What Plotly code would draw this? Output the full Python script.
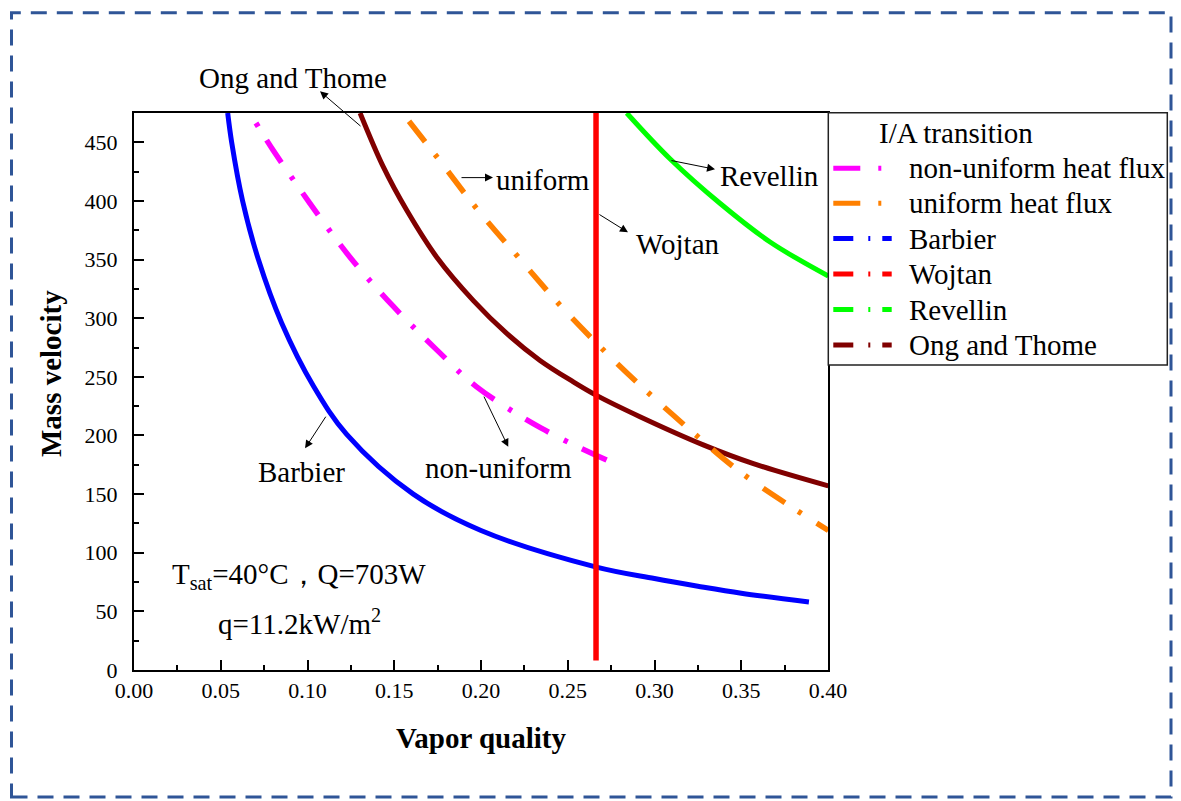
import plotly.graph_objects as go

FONT = "Liberation Serif, Times New Roman, serif"

# ---- data ----
barbier_x = [0.054, 0.0563, 0.0626, 0.0717, 0.0851, 0.1035, 0.1226, 0.161, 0.2, 0.266, 0.30, 0.325, 0.35, 0.389]
barbier_y = [475, 450, 400, 350, 296, 242, 201, 150, 119, 88, 78, 71.5, 65.5, 58]

nonuni_x = [0.0703, 0.0803, 0.1014, 0.1245, 0.1495, 0.1745, 0.1975, 0.235, 0.2724]
nonuni_y = [466.5, 443, 398, 352, 310, 273, 241.5, 206, 179]

uni_x = [0.1585, 0.1754, 0.1975, 0.2221, 0.2465, 0.2725, 0.2916, 0.3195, 0.3493, 0.38, 0.4002]
uni_y = [468, 436, 393.5, 351, 309.6, 270, 243, 206, 169, 138, 119]

ong_x = [0.1303, 0.1437, 0.1572, 0.1745, 0.1956, 0.2148, 0.234, 0.2532, 0.2663, 0.2916, 0.3281, 0.357, 0.4002]
ong_y = [475, 429, 392, 352, 315, 287, 264, 245.7, 234.4, 216, 192, 176, 157]

revellin_x = [0.284, 0.3089, 0.3377, 0.3666, 0.4002]
revellin_y = [475, 436, 398, 365, 336]

wojtan_x = [0.2663, 0.2663]
wojtan_y = [8, 480]

legend_title = "I/A transition"
legend_names = ["non-uniform heat flux", "uniform heat flux", "Barbier", "Wojtan", "Revellin", "Ong and Thome"]
x_ticks = [0.00, 0.05, 0.10, 0.15, 0.20, 0.25, 0.30, 0.35, 0.40]
y_ticks = [0, 50, 100, 150, 200, 250, 300, 350, 400, 450]

C_MAG = "#FF00FF"
C_ORA = "#FF8000"
C_BLU = "#0000FF"
C_RED = "#FF0000"
C_GRN = "#00FF00"
C_BRN = "#800000"

fig = go.Figure()

spl = dict(shape="spline", smoothing=1.0)
fig.add_trace(go.Scatter(x=barbier_x, y=barbier_y, mode="lines", name="Barbier",
                         line=dict(color=C_BLU, width=5, **spl)))
fig.add_trace(go.Scatter(x=nonuni_x, y=nonuni_y, mode="lines", name="non-uniform heat flux",
                         line=dict(color=C_MAG, width=5.5, dash="4px,16px,27px,17px", **spl)))
fig.add_trace(go.Scatter(x=ong_x, y=ong_y, mode="lines", name="Ong and Thome",
                         line=dict(color=C_BRN, width=5, **spl)))
fig.add_trace(go.Scatter(x=uni_x, y=uni_y, mode="lines", name="uniform heat flux",
                         line=dict(color=C_ORA, width=5.5, dash="26px,16px,4px,18px", **spl)))
fig.add_trace(go.Scatter(x=revellin_x, y=revellin_y, mode="lines", name="Revellin",
                         line=dict(color=C_GRN, width=5, **spl)))
fig.add_trace(go.Scatter(x=wojtan_x, y=wojtan_y, mode="lines", name="Wojtan",
                         line=dict(color=C_RED, width=5.5)))

W, H = 1181, 801
ML, MR, MT, MB = 134, 353, 113, 131
PW, PH = W - ML - MR, H - MT - MB

def px_to_paper(px, py):
    return (px - ML) / PW, (H - MB - py) / PH

axis_common = dict(
    showgrid=False, zeroline=False, showline=True, linecolor="black", linewidth=2,
    mirror=True, ticks="inside", ticklen=10, tickwidth=2, tickcolor="black",
    tickfont=dict(family=FONT, size=22, color="black"),
    minor=dict(ticks="inside", ticklen=5, tickwidth=2, tickcolor="black", showgrid=False),
)

fig.update_xaxes(range=[0, 0.40], tickvals=x_ticks, tickformat=".2f",
                 minor_dtick=0.025, ticklabelstandoff=0,
                 title=dict(text="<b>Vapor quality</b>", font=dict(family=FONT, size=29, color="black"), standoff=25),
                 **axis_common)
fig.update_yaxes(range=[0, 475], tickvals=y_ticks, minor_dtick=25, ticklabelstandoff=10,
                 **axis_common)

annotations = []
shapes = []

# y axis title
yx, yy = px_to_paper(51, 374)
annotations.append(dict(xref="paper", yref="paper", x=yx, y=yy, text="<b>Mass velocity</b>",
                        textangle=-90, showarrow=False, xanchor="center", yanchor="middle",
                        font=dict(family=FONT, size=29, color="black")))

# arrows (head <- tail) in data coordinates
arrows = [
    ((0.1072, 493.5), (0.1314, 462.8)),   # Ong and Thome
    ((0.2069, 419.9), (0.1879, 419.9)),   # uniform
    ((0.2847, 373.3), (0.2674, 389.2)),   # Wojtan
    ((0.3349, 427.0), (0.3089, 434.7)),   # Revellin
    ((0.0986, 189.0), (0.1111, 217.3)),   # Barbier
    ((0.2157, 190.3), (0.2013, 234.4)),   # non-uniform
]
for (hx, hy), (tx, ty) in arrows:
    annotations.append(dict(x=hx, y=hy, ax=tx, ay=ty, xref="x", yref="y", axref="x", ayref="y",
                            text="", showarrow=True, arrowhead=2, arrowsize=1.6, arrowwidth=1,
                            arrowcolor="black", standoff=0, startstandoff=0))

labels = [
    ("uniform", 0.2357, 418.0),
    ("Wojtan", 0.3135, 363.0),
    ("Revellin", 0.3660, 421.0),
    ("Barbier", 0.0968, 169.0),
    ("non-uniform", 0.2098, 172.0),
    ("T<sub>sat</sub>=40°C，Q=703W", 0.0951, 80.5),
    ("q=11.2kW/m<sup>2</sup>", 0.0951, 41.0),
]
for txt, lx, ly in labels:
    annotations.append(dict(x=lx, y=ly, xref="x", yref="y", text=txt, showarrow=False,
                            xanchor="center", yanchor="middle",
                            font=dict(family=FONT, size=29, color="black")))

# label above the plot area (paper coordinates)
ox, oy = px_to_paper(293, 78)
annotations.append(dict(xref="paper", yref="paper", x=ox, y=oy, text="Ong and Thome", showarrow=False,
                        xanchor="center", yanchor="middle", font=dict(family=FONT, size=29, color="black")))

# ---- legend box drawn in paper space ----
lx0, ly0 = px_to_paper(828.3, 112.7)
lx1, ly1 = px_to_paper(1167.3, 365)
shapes.append(dict(type="rect", xref="paper", yref="paper", x0=lx0, x1=lx1, y0=ly1, y1=ly0,
                   line=dict(color="#222222", width=1.5), fillcolor="white", layer="above"))
tx, ty = px_to_paper(876.7, 133)
annotations.append(dict(xref="paper", yref="paper", x=tx, y=ty, text=legend_title, showarrow=False,
                        xanchor="left", yanchor="middle", font=dict(family=FONT, size=29, color="black")))
leg_colors = [C_MAG, C_ORA, C_BLU, C_RED, C_GRN, C_BRN]
leg_dash = ["27px,18px,3px,20px", "27px,18px,3px,20px",
            "20px,15px,2px,12px", "20px,15px,2px,12px", "20px,15px,2px,12px", "20px,15px,2px,12px"]
row_y = [168.3, 203.3, 238.6, 274.0, 309.6, 345.0]
for name, col, dsh, ry in zip(legend_names, leg_colors, leg_dash, row_y):
    sx0, sy = px_to_paper(833.3, ry)
    sx1, _ = px_to_paper(891.7, ry)
    shapes.append(dict(type="line", xref="paper", yref="paper", x0=sx0, x1=sx1, y0=sy, y1=sy,
                       line=dict(color=col, width=5, dash=dsh), layer="above"))
    nx, _ = px_to_paper(906.7, ry)
    annotations.append(dict(xref="paper", yref="paper", x=nx, y=sy, text=name, showarrow=False,
                            xanchor="left", yanchor="middle", font=dict(family=FONT, size=29, color="black")))

# dashed outer frame
bx0, by1 = px_to_paper(11.5, 12.7)
bx1, by0 = px_to_paper(1171, 797)
shapes.append(dict(type="rect", xref="paper", yref="paper", x0=bx0, x1=bx1, y0=by0, y1=by1,
                   line=dict(color="#2F5597", width=3, dash="16px,10px"), fillcolor="rgba(0,0,0,0)",
                   layer="above"))

fig.update_layout(
    width=W, height=H,
    margin=dict(l=ML, r=MR, t=MT, b=MB),
    paper_bgcolor="white", plot_bgcolor="white",
    font=dict(family=FONT, size=22, color="black"),
    showlegend=False,
    annotations=annotations,
    shapes=shapes,
)

fig.write_html("out.html")
